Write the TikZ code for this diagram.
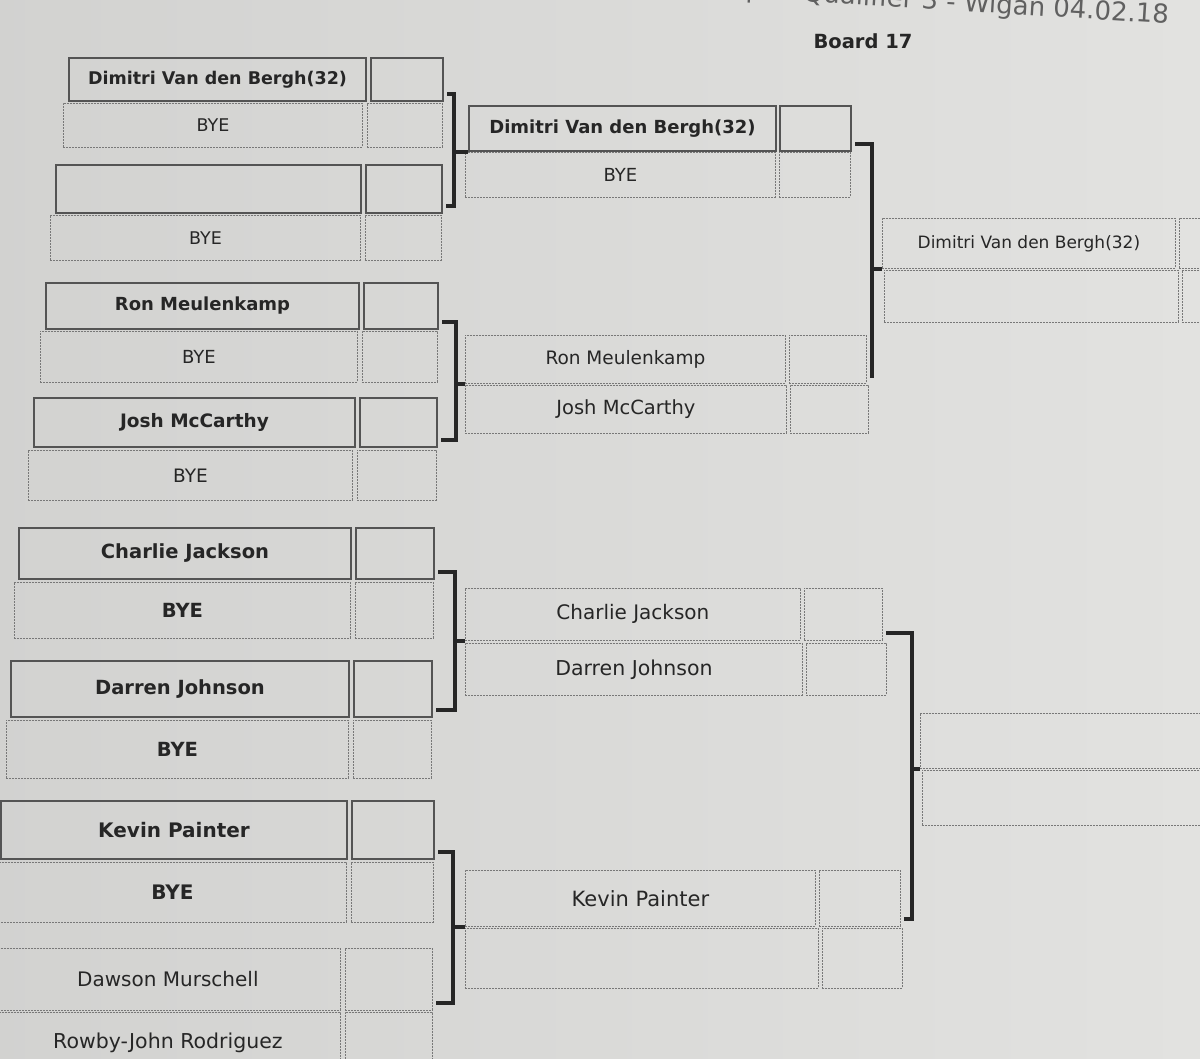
\documentclass[tikz,border=0pt]{standalone}
\usepackage{fontspec}
\setmainfont{DejaVu Sans}
\usetikzlibrary{calc}

\definecolor{paper}{RGB}{226,226,224}
\definecolor{ink}{RGB}{38,38,38}
\definecolor{rulegray}{RGB}{120,120,120}

\tikzset{
  cell/.style={draw=rulegray, line width=0.8pt, dash pattern=on 2pt off 1pt,
    inner sep=0pt, anchor=north west, text=ink, font=\fontsize{17}{20}\selectfont},
  seedcell/.style={cell, solid, draw=rulegray!70!black, line width=2pt},
  bracket/.style={line width=4pt, black!85},
}

\begin{document}
\begin{tikzpicture}[x=1pt,y=1pt]
  \useasboundingbox (0,0) rectangle (1200,-1059);
  \clip (0,0) rectangle (1200,-1059);
  \shade[left color=paper!93!black, right color=paper] (0,0) rectangle (1200,-1059);

  % header
  \node[anchor=base east, rotate=-3.5, text=gray!75!black, font=\fontsize{26}{30}\selectfont] (title) at (1172,-24) {UK Open Qualifier 3 - Wigan 04.02.18};
  \node[text=ink, font=\fontsize{19.5}{22}\selectfont\bfseries] (board) at (863,-41) {Board 17};

  % first round
  \foreach \n/\l/\r/\t/\b/\sr/\fs/\txt/\st in {
      1/68/365/57/100/442/17.5/{\bfseries Dimitri Van den Bergh(32)}/seedcell,
      2/63/362/103/147/442/17.5/BYE/cell,
      3/55/360/164/212/441/17.5/{}/seedcell,
      4/50/360/215/260/441/17.5/BYE/cell,
      5/45/358/282/328/437/18/{\bfseries Ron Meulenkamp}/seedcell,
      6/40/357/331/382/437/18/BYE/cell,
      7/33/354/397/446/436/18.5/{\bfseries Josh McCarthy}/seedcell,
      8/28/352/450/500/436/18.5/BYE/cell,
      9/18/350/527/578/433/19.5/{\bfseries Charlie Jackson}/seedcell,
      10/14/350/582/638/433/19.5/{\bfseries BYE}/cell,
      11/10/348/660/716/431/19.5/{\bfseries Darren Johnson}/seedcell,
      12/6/348/720/778/431/19.5/{\bfseries BYE}/cell,
      13/0/346/800/858/433/20/{\bfseries Kevin Painter}/seedcell,
      14/-2/346/862/922/433/20/{\bfseries BYE}/cell,
      15/-5/340/948/1010/432/20/Dawson Murschell/cell,
      16/-5/340/1012/1072/432/20.5/Rowby-John Rodriguez/cell} {
    \node[\st, font=\fontsize{\fs}{24}\selectfont, minimum width={\r-(\l)}, minimum height={\b-\t}] (a\n) at (\l,-\t) {\txt};
    \node[\st, minimum width={\sr-\r-5}, minimum height={\b-\t}] (a\n-s) at (\r+5,-\t) {};
  }

  % second round
  \foreach \n/\l/\r/\t/\b/\sr/\fs/\txt/\st in {
      1/468/775/105/150/850/18/{\bfseries Dimitri Van den Bergh(32)}/seedcell,
      2/465/775/152/197/850/18/BYE/cell,
      3/465/785/335/383/866/18.5/Ron Meulenkamp/cell,
      4/465/786/385/433/868/19.5/Josh McCarthy/cell,
      5/465/800/588/640/882/20/Charlie Jackson/cell,
      6/465/802/643/695/886/20.5/Darren Johnson/cell,
      7/465/815/870/926/900/21/Kevin Painter/cell,
      8/465/818/928/988/902/21/{}/cell} {
    \node[\st, font=\fontsize{\fs}{24}\selectfont, minimum width={\r-\l}, minimum height={\b-\t}] (b\n) at (\l,-\t) {\txt};
    \node[\st, minimum width={\sr-\r-4}, minimum height={\b-\t}] (b\n-s) at (\r+4,-\t) {};
  }

  % third round
  \foreach \n/\l/\r/\t/\b/\sr/\txt in {
      1/882/1175/218/268/1250/Dimitri Van den Bergh(32),
      2/884/1178/270/322/1250/{},
      3/920/1240/713/768/1300/{},
      4/922/1240/770/825/1300/{}} {
    \node[cell, minimum width={\r-\l}, minimum height={\b-\t}] (c\n) at (\l,-\t) {\txt};
    \node[cell, minimum width={\sr-\r-4}, minimum height={\b-\t}] (c\n-s) at (\r+4,-\t) {};
  }

  % brackets round 1 -> round 2
  \foreach \i/\j/\k/\x in {1/3/1/454, 5/7/3/456, 9/11/5/455, 13/15/7/453} {
    \coordinate (v\k) at (\x,0);
    \draw[bracket] ($(a\i-s.south east)+(3,8)$) coordinate (t\k) -- (t\k -| v\k) |- ($(a\j-s.south east)+(3,8)$);
    \draw[bracket] (v\k |- b\k.south west) -- (b\k.south west);
  }

  % brackets round 2 -> round 3
  \foreach \i/\j/\k/\x in {1/3/1/872, 5/7/3/912} {
    \coordinate (w\k) at (\x,0);
    \draw[bracket] ($(b\i-s.south east)+(3,8)$) coordinate (u\k) -- (u\k -| w\k) |- ($(b\j-s.south east)+(3,8)$);
    \draw[bracket] (w\k |- c\k.south west) -- (c\k.south west);
  }
\end{tikzpicture}
\end{document}
